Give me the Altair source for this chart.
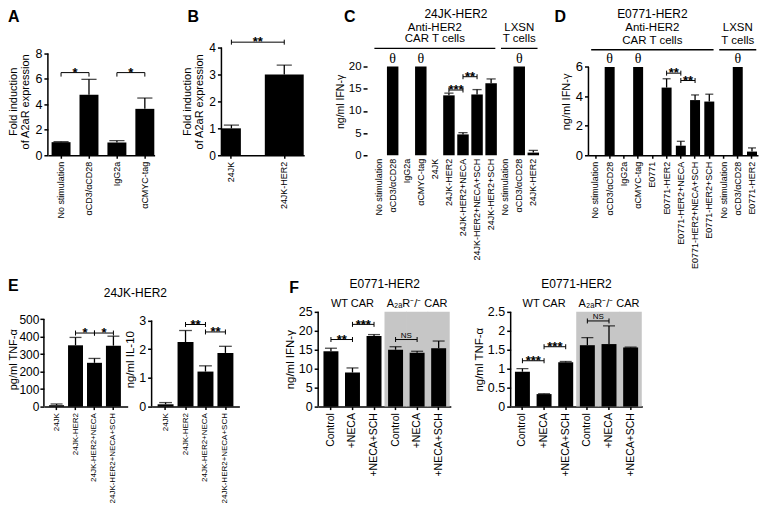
import json
import altair as alt
import pandas as pd

FONT = "Liberation Sans"
SERIF = "Liberation Serif"

# ---------------- data ----------------
a_labels = ["No stimulation", "αCD3/αCD28", "IgG2a", "αCMYC-tag"]
a_mean = [1.03, 4.75, 1.0, 3.65]
a_err = [1.07, 5.97, 1.15, 4.5]
a_sig_from = [0, 2]
a_sig_to = [1, 3]
a_sig_txt = ["*", "*"]
a_sig_y = [6.5, 6.5]

b_labels = ["24JK", "24JK-HER2"]
b_mean = [1.0, 3.0]
b_err = [1.12, 3.35]
b_sig_from = [0]
b_sig_to = [1]
b_sig_txt = ["**"]
b_sig_y = [4.2]

c_labels = ["No stimulation", "αCD3/αCD28", "IgG2a", "αCMYC-tag", "24JK", "24JK-HER2",
            "24JK-HER2+NECA", "24JK-HER2+NECA+SCH", "24JK-HER2+SCH",
            "No stimulation", "αCD3/αCD28", "24JK-HER2"]
c_mean = [0, 20, 0, 20, 0, 13.5, 4.7, 13.7, 16.2, 0, 20, 0.6]
c_err = [0, 20, 0, 20, 0, 14.0, 5.1, 14.8, 17.2, 0, 20, 1.1]
c_theta = [1, 3, 10]
c_sig_from = [5, 6]
c_sig_to = [6, 7]
c_sig_txt = ["***", "**"]
c_sig_y = [14.7, 17.7]

d_labels = ["No stimulation", "αCD3/αCD28", "IgG2a", "αCMYC-tag", "E0771", "E0771-HER2",
            "E0771-HER2+NECA", "E0771-HER2+NECA+SCH", "E0771-HER2+SCH",
            "No stimulation", "αCD3/αCD28", "E0771-HER2"]
d_mean = [0, 6, 0, 6, 0, 4.6, 0.65, 3.75, 3.65, 0, 6, 0.25]
d_err = [0, 6, 0, 6, 0, 5.2, 0.95, 4.1, 4.15, 0, 6, 0.5]
d_theta = [1, 3, 10]
d_sig_from = [5, 6]
d_sig_to = [6, 7]
d_sig_txt = ["**", "**"]
d_sig_y = [5.58, 5.08]

e_labels = ["24JK", "24JK-HER2", "24JK-HER2+NECA", "24JK-HER2+NECA+SCH"]
e_tnf_mean = [8, 350, 250, 348]
e_tnf_err = [15, 395, 275, 402]
e_tnf_sig_from = [1, 2]
e_tnf_sig_to = [2, 3]
e_tnf_sig_txt = ["*", "*"]
e_tnf_sig_y = [420, 420]
e_il10_mean = [0.08, 2.25, 1.22, 1.87]
e_il10_err = [0.14, 2.65, 1.42, 2.1]
e_il10_sig_from = [1, 2]
e_il10_sig_to = [2, 3]
e_il10_sig_txt = ["**", "**"]
e_il10_sig_y = [2.86, 2.6]

f_labels = ["Control", "+NECA", "+NECA+SCH", "Control", "+NECA", "+NECA+SCH"]
f_ko_groups = [3, 4, 5]
f_ifn_mean = [14.6, 9.0, 18.6, 15.0, 14.2, 15.4]
f_ifn_err = [15.4, 10.2, 19.0, 15.8, 14.6, 17.3]
f_ifn_sig_from = [0, 1, 3]
f_ifn_sig_to = [1, 2, 4]
f_ifn_sig_txt = ["**", "***", "NS"]
f_ifn_sig_y = [17.7, 21.7, 17.7]
f_tnf_mean = [0.92, 0.33, 1.17, 1.62, 1.65, 1.56]
f_tnf_err = [1.0, 0.34, 1.19, 1.82, 2.13, 1.57]
f_tnf_sig_from = [0, 1, 3]
f_tnf_sig_to = [1, 2, 4]
f_tnf_sig_txt = ["***", "***", "NS"]
f_tnf_sig_y = [1.21, 1.58, 2.26]


class Panel:
    def __init__(self, labels, left, right, step, bw, c1, height, ymax, yticks, ytitle,
                 ylab=12, ytitle_size=11, ytitle_pad=4, ylab_pad=2, xlab=9, yfmt=None,
                 xdomain=True, xticks=True, yline=True, cap=0.8):
        n = len(labels)
        self.keys = list(range(n))
        self.step = step
        self.bw = bw
        self.cap = cap * bw
        self.W = right - left
        self.H = height
        pi = 1 - bw / step
        po = max((self.W / step - n + pi) / 2, 0.0)
        al = 0.5 if po <= 0 else min(max((c1 - bw / 2 - left) / (2 * po * step), 0.0), 1.0)
        self.xscale = alt.Scale(type="band", domain=self.keys, paddingInner=pi,
                                paddingOuter=po, align=al)
        self.xaxis = alt.Axis(labelExpr=json.dumps(labels, ensure_ascii=False) + "[datum.value]",
                              labelAngle=-90, labelFontSize=xlab, labelPadding=3,
                              domain=xdomain, ticks=xticks, tickSize=3, labelOverlap=False)
        yax = dict(values=yticks, domain=False, tickSize=4, labelFontSize=ylab,
                   labelPadding=ylab_pad, titleFontSize=ytitle_size, titlePadding=ytitle_pad,
                   titleLineHeight=ytitle_size + 1.5, labelOverlap=False)
        if yfmt:
            yax["format"] = yfmt
        self.yaxis = alt.Axis(**yax)
        self.yscale = alt.Scale(domain=[0, ymax], nice=False, zero=True)
        self.ytitle = ytitle
        self.layers = []
        if yline:
            df = pd.DataFrame({"y0": [0], "y1": [yticks[-1]]})
            self.layers.append(alt.Chart(df).mark_rule(color="black", strokeWidth=1.5).encode(
                x=alt.value(0), y=self.Y("y0"), y2=alt.Y2("y1")))

    def X(self, f="k"):
        return alt.X(f + ":O", scale=self.xscale, axis=self.xaxis, title=None)

    def Y(self, f="v"):
        return alt.Y(f + ":Q", scale=self.yscale, axis=self.yaxis, title=self.ytitle)

    def shade(self, keys, top, color="#c6c6c6"):
        df = pd.DataFrame({"k": keys, "top": [top] * len(keys), "bot": [0] * len(keys)})
        self.layers.insert(0, alt.Chart(df).mark_bar(color=color, width=self.step + 0.6).encode(
            x=self.X(), y=self.Y("top"), y2=alt.Y2("bot")))

    def bars(self, mean, err, wide=None):
        wide = wide or {}
        df = pd.DataFrame({"k": self.keys, "v": mean, "e": err})
        normal = df[~df.k.isin(list(wide))]
        self.layers.append(alt.Chart(normal).mark_bar(color="black").encode(
            x=self.X(), y=self.Y("v")))
        for k, w in wide.items():
            self.layers.append(alt.Chart(df[df.k == k]).mark_bar(color="black", width=w).encode(
                x=self.X(), y=self.Y("v")))
        edf = df[df.e > df.v + 1e-9]
        self.layers.append(alt.Chart(edf).mark_rule(color="black", strokeWidth=1.3).encode(
            x=self.X(), y=self.Y("v"), y2=alt.Y2("e")))
        self.layers.append(alt.Chart(edf).mark_tick(color="black", orient="horizontal",
                                                    size=self.cap, thickness=1.3).encode(
            x=self.X(), y=self.Y("e")))

    def sig(self, k_from, k_to, texts, ys, ends="center", star=13):
        df = pd.DataFrame({"k1": k_from, "k2": k_to, "y": ys, "t": texts})
        self.layers.append(alt.Chart(df).mark_rule(color="black", strokeWidth=1).encode(
            x=self.X("k1"), x2=alt.X2("k2"), y=self.Y("y")))
        edf = pd.DataFrame({"kk": list(k_from) + list(k_to), "y": list(ys) + list(ys)})
        off = (0, 4) if ends == "down" else (-2.5, 2.5)
        self.layers.append(alt.Chart(edf).mark_rule(color="black", strokeWidth=1,
                                                    yOffset=off[0], y2Offset=off[1]).encode(
            x=self.X("kk"), y=self.Y("y"), y2=alt.Y2("y")))
        stars = df[df.t.str.contains(r"\*")]
        other = df[~df.t.str.contains(r"\*")]
        if len(stars):
            self.layers.append(alt.Chart(stars).mark_text(
                dx=self.step / 2, dy=star * 0.33, baseline="alphabetic", fontSize=star,
                fontWeight="bold").encode(x=self.X("k1"), y=self.Y("y"), text="t:N"))
        if len(other):
            self.layers.append(alt.Chart(other).mark_text(
                dx=self.step / 2, dy=-2, baseline="alphabetic", fontSize=8).encode(
                x=self.X("k1"), y=self.Y("y"), text="t:N"))

    def theta(self, keys, mean):
        df = pd.DataFrame({"k": keys, "v": [mean[k] for k in keys], "t": ["θ"] * len(keys)})
        self.layers.append(alt.Chart(df).mark_text(font=SERIF, fontSize=14, baseline="bottom",
                                                   dy=-1).encode(
            x=self.X(), y=self.Y("v"), text="t:N"))

    def text(self, keys, ys, texts, dx=0, size=11.5):
        df = pd.DataFrame({"k": keys, "y": ys, "t": texts})
        self.layers.append(alt.Chart(df).mark_text(dx=dx, fontSize=size,
                                                   baseline="alphabetic").encode(
            x=self.X(), y=self.Y("y"), text="t:N"))

    def hline(self, k_from, k_to, ys, pad=0.3):
        df = pd.DataFrame({"k1": k_from, "k2": k_to, "y": ys})
        self.layers.append(alt.Chart(df).mark_rule(
            color="black", strokeWidth=1.3, xOffset=-pad * self.step,
            x2Offset=pad * self.step).encode(x=self.X("k1"), x2=alt.X2("k2"), y=self.Y("y")))

    def letter(self, t, x, y):
        df = pd.DataFrame({"t": [t]})
        self.layers.append(alt.Chart(df).mark_text(
            fontSize=16, fontWeight="bold", align="left", baseline="top").encode(
            x=alt.value(x), y=alt.value(y), text="t:N"))

    def chart(self):
        return alt.layer(*self.layers).properties(width=self.W, height=self.H)


def spacer(w, h):
    return alt.Chart(pd.DataFrame({"s": [0]})).mark_point(opacity=0).encode(
        x=alt.value(0), y=alt.value(0)).properties(width=w, height=h)


FOLD = ["Fold induction", "of A2aR expression"]
H1 = 108
H2 = 95

A = Panel(a_labels, 48, 155, 28, 19, 61.2, H1, 8.47, [0, 2, 4, 6, 8], FOLD,
          ylab=12.5, ytitle_size=11, ytitle_pad=4)
A.bars(a_mean, a_err)
A.sig(a_sig_from, a_sig_to, a_sig_txt, a_sig_y, ends="down")
A.letter("A", -40, -39)

B = Panel(b_labels, 222, 305, 53, 19, 232, H1, 4.0, [0, 1, 2, 3, 4], FOLD,
          ylab=12, ytitle_size=11, ytitle_pad=4)
B.bars(b_mean, b_err, wide={1: 39})
B.sig(b_sig_from, b_sig_to, b_sig_txt, b_sig_y)
B.letter("B", -34, -39)

C = Panel(c_labels, 368, 543, 14.1, 11.5, 379.6, H1, 24.27, [0, 5, 10, 15, 20], "ng/ml IFN-γ",
          ylab=11.5, ytitle_size=10.5, ytitle_pad=3, xdomain=False, xticks=False, yline=False)
C.bars(c_mean, c_err)
C.theta(c_theta, c_mean)
C.sig(c_sig_from, c_sig_to, c_sig_txt, c_sig_y)
C.text([5], [31.0], ["24JK-HER2"], dx=C.step / 2, size=12)
C.text([4, 10], [28.1, 28.1], ["Anti-HER2", "LXSN"], size=11.5)
C.text([4, 10], [25.5, 25.5], ["CAR T cells", "T cells"], size=11.5)
C.hline([0, 9], [8, 11], [24.1, 24.1])
C.letter("C", -23, -39)

D = Panel(d_labels, 590, 760, 14.27, 10, 597, H1, 7.32, [0, 2, 4, 6], "ng/ml IFN-γ",
          ylab=13, ytitle_size=11, ytitle_pad=4)
D.bars(d_mean, d_err)
D.theta(d_theta, d_mean)
D.sig(d_sig_from, d_sig_to, d_sig_txt, d_sig_y)
D.text([4], [9.36], ["E0771-HER2"], size=12)
D.text([4, 10], [8.47, 8.47], ["Anti-HER2", "LXSN"], size=11.5)
D.text([4, 10], [7.57, 7.57], ["CAR T cells", "T cells"], size=11.5)
D.hline([0, 9], [8, 11], [7.17, 7.17])
D.letter("D", -34, -39)

E1 = Panel(e_labels, 44, 128, 19, 15, 56.7, H2, 541, [0, 100, 200, 300, 400, 500],
           "pg/ml TNF-α", ylab=12, ylab_pad=1, ytitle_size=11, ytitle_pad=0, xlab=8)
E1.bars(e_tnf_mean, e_tnf_err)
E1.sig(e_tnf_sig_from, e_tnf_sig_to, e_tnf_sig_txt, e_tnf_sig_y)
E1.text([3], [627], ["24JK-HER2"], dx=22, size=12)
E1.letter("E", -36, -33.7)

E2 = Panel(e_labels, 152, 240, 20, 16, 166, H2, 3.3, [0, 1, 2, 3],
           "ng/ml IL-10", ylab=12.5, ytitle_size=11.5, ytitle_pad=3, xlab=8)
E2.bars(e_il10_mean, e_il10_err)
E2.sig(e_il10_sig_from, e_il10_sig_to, e_il10_sig_txt, e_il10_sig_y)

F1 = Panel(f_labels, 319, 452, 21.6, 15, 331.8, H2, 25, [0, 5, 10, 15, 20, 25],
           "ng/ml IFN-γ", ylab=12.5, ytitle_size=11.5, ytitle_pad=3, xlab=10.5)
F1.shade(f_ko_groups, 25)
F1.bars(f_ifn_mean, f_ifn_err)
F1.sig(f_ifn_sig_from, f_ifn_sig_to, f_ifn_sig_txt, f_ifn_sig_y)
F1.text([2], [31.2], ["E0771-HER2"], dx=F1.step / 2, size=12)
F1.text([1, 4], [26.3, 26.3], ["WT CAR", "A₂ₐR⁻/⁻ CAR"], size=11)
F1.letter("F", -29, -31.7)

F2 = Panel(f_labels, 512, 644, 21.7, 15, 523.8, H2, 2.5, [0, 0.5, 1, 1.5, 2, 2.5],
           "ng/ml TNF-α", ylab=12.5, ytitle_size=11.5, ytitle_pad=3, xlab=10.5, yfmt="~g")
F2.shade(f_ko_groups, 2.5)
F2.bars(f_tnf_mean, f_tnf_err)
F2.sig(f_tnf_sig_from, f_tnf_sig_to, f_tnf_sig_txt, f_tnf_sig_y)
F2.text([2], [3.12], ["E0771-HER2"], dx=F2.step / 2, size=12)
F2.text([1, 4], [2.63, 2.63], ["WT CAR", "A₂ₐR⁻/⁻ CAR"], size=11)

row1 = alt.hconcat(spacer(8, H1), A.chart(), spacer(67, H1), B.chart(), spacer(63, H1),
                   C.chart(), spacer(47, H1), D.chart(), spacing=0, bounds="flush")
row2 = alt.hconcat(spacer(4, H2), E1.chart(), spacer(24, H2), E2.chart(), spacer(79, H2),
                   F1.chart(), spacer(60, H2), F2.chart(), spacing=0, bounds="flush")

chart = alt.vconcat(row1, row2, spacing=265, bounds="flush").properties(
    autosize=alt.AutoSizeParams(type="none"),
    padding={"left": 32, "top": 39, "right": 722, "bottom": 458},
    background="white"
).configure_view(stroke=None).configure_axis(
    labelFont=FONT, titleFont=FONT, labelColor="black", titleColor="black",
    domainColor="black", tickColor="black", domainWidth=1.5, tickWidth=1.5,
    grid=False, titleFontWeight="normal"
).configure_text(font=FONT, color="black")

chart.save("out.html", embed_options={"renderer": "svg", "actions": False})
